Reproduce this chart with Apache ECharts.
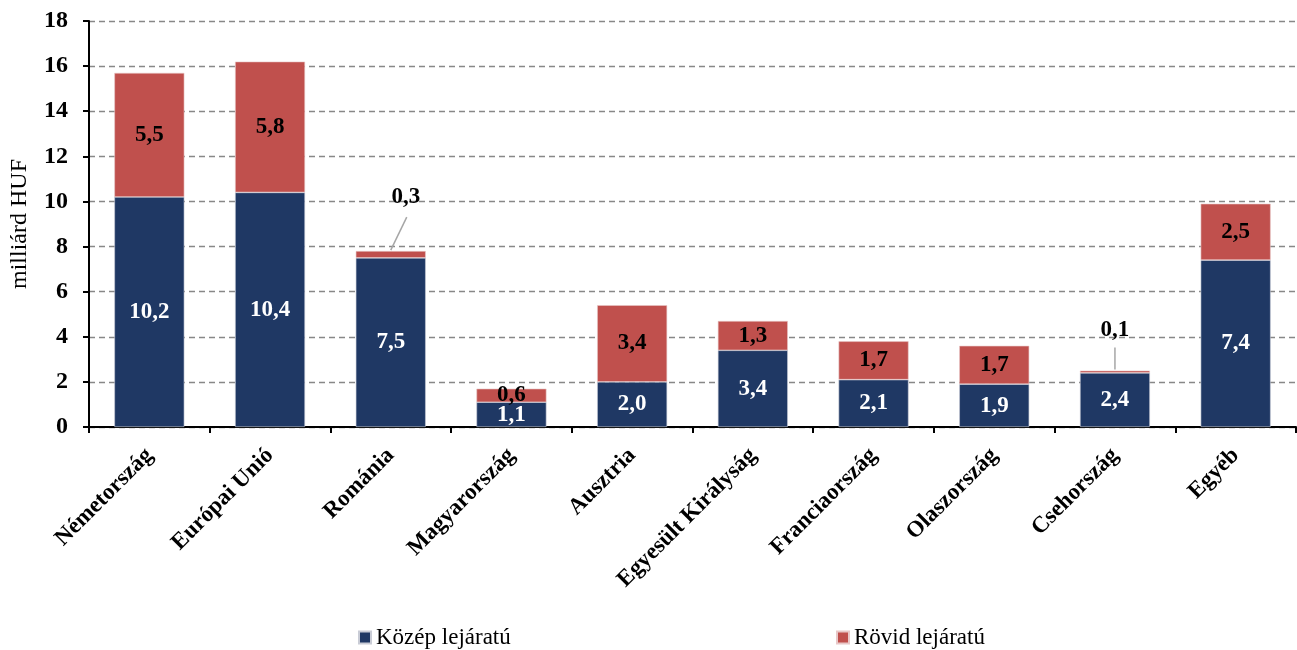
<!DOCTYPE html>
<html><head><meta charset="utf-8">
<script src="https://cdn.jsdelivr.net/npm/echarts@6/dist/echarts.min.js"></script>
<style>html,body{margin:0;padding:0;background:#fff}#c{width:1297px;height:650px}</style>
</head><body><div id="c"></div>
<script>
const categories = ['Németország','Európai Unió','Románia','Magyarország','Ausztria','Egyesült Királyság','Franciaország','Olaszország','Csehország','Egyéb'];
const kozep = [10.2,10.4,7.5,1.1,2.0,3.4,2.1,1.9,2.4,7.4];
const rovid = [5.5,5.8,0.3,0.6,3.4,1.3,1.7,1.7,0.1,2.5];
const yTicks = [0,2,4,6,8,10,12,14,16,18];
const seriesNames = ['Közép lejáratú','Rövid lejáratú'];
const movedLabels = [2, 8];

const FONT = '"Liberation Serif","Times New Roman",serif';
const fmt = p => p.value.toFixed(1).replace('.', ',');
const chart = echarts.init(document.getElementById('c'));
chart.setOption({
  animation:false,
  grid:{left:86,right:1,top:21,bottom:223,containLabel:false},
  legend:[
    {data:[seriesNames[0]],left:353,bottom:-4,icon:'rect',itemWidth:12,itemHeight:12,itemGap:5,
     textStyle:{fontFamily:FONT,fontSize:23,color:'#000'}},
    {data:[seriesNames[1]],left:831,bottom:-4,icon:'rect',itemWidth:12,itemHeight:12,itemGap:5,
     textStyle:{fontFamily:FONT,fontSize:23,color:'#000'}}
  ],
  xAxis:{type:'category',data:categories,
    axisLine:{lineStyle:{color:'#000',width:2}},
    axisTick:{show:true,alignWithLabel:false,length:6,lineStyle:{color:'#000',width:2}},
    axisLabel:{interval:0,rotate:45,margin:25,fontFamily:FONT,fontSize:23,fontWeight:'bold',color:'#000'}},
  yAxis:{type:'value',min:yTicks[0],max:yTicks[yTicks.length-1],interval:2,
    name:'milliárd HUF',nameLocation:'middle',nameGap:57,
    nameTextStyle:{fontFamily:FONT,fontSize:24,color:'#000'},
    axisLine:{show:true,lineStyle:{color:'#000',width:2}},
    axisTick:{show:true,inside:false,length:6,lineStyle:{color:'#000',width:2}},
    axisLabel:{margin:21,fontFamily:FONT,fontSize:24,fontWeight:'bold',color:'#000'},
    splitLine:{show:true,lineStyle:{color:'#888',type:[6,4],width:1.3}}},
  series:[
    {name:seriesNames[0],type:'bar',stack:'a',data:kozep,barWidth:70,
     itemStyle:{color:'#1F3864',borderColor:'#c9ccd6',borderWidth:0.6},
     label:{show:true,position:'inside',formatter:fmt,fontFamily:FONT,fontSize:23,fontWeight:'bold',color:'#fff'}},
    {name:seriesNames[1],type:'bar',stack:'a',data:rovid,barWidth:70,
     itemStyle:{color:'#C0504D',borderColor:'#e8c8c8',borderWidth:0.6},
     label:{show:true,position:'inside',formatter:fmt,fontFamily:FONT,fontSize:23,fontWeight:'bold',color:'#000'},
     labelLayout:function(p){
       if(p.dataIndex===2) return {dx:15,dy:-57};
       if(p.dataIndex===8) return {dx:0,dy:-42};
       return {};
     }}
  ]
});
// leader lines computed from the data via the chart's own scales
const leaders = [];
const offs = {2:[16,-34], 8:[0,-23]};
movedLabels.forEach(i => {
  const top = chart.convertToPixel({seriesIndex:1}, [i, kozep[i] + rovid[i]]);
  leaders.push({type:'line', silent:true,
    shape:{x1:top[0], y1:top[1]-1, x2:top[0]+offs[i][0], y2:top[1]+offs[i][1]},
    style:{stroke:'#a6a6a6', lineWidth:1.5}});
});
chart.setOption({graphic:leaders});
</script></body></html>
